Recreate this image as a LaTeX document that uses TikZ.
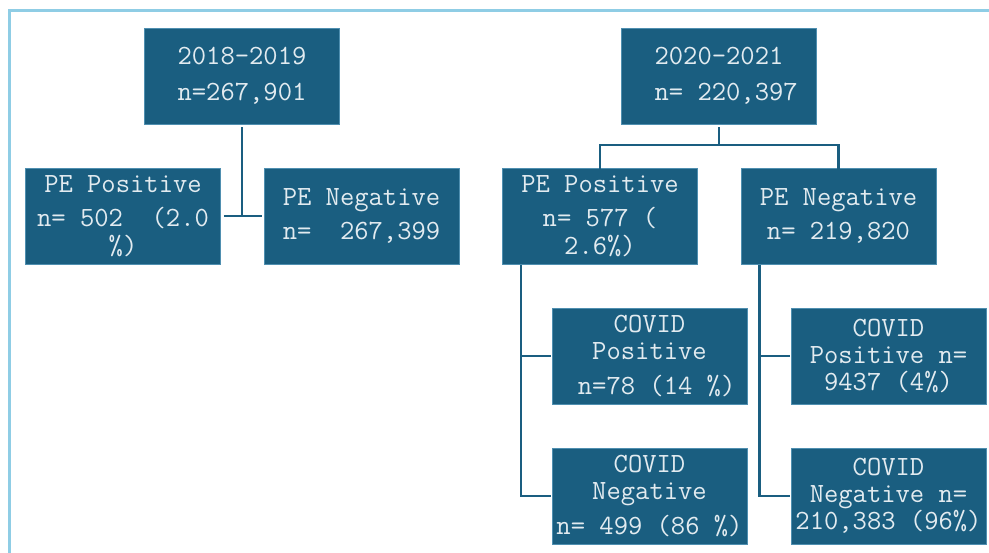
\documentclass[tikz,border=0pt]{standalone}
\usepackage{fontspec}
\definecolor{boxfill}{HTML}{1A5E80}
\definecolor{boxedge}{HTML}{4F8FB0}
\definecolor{frame}{HTML}{8FCDE5}
\definecolor{txt}{HTML}{E2EBF0}
\tikzset{
  box/.style={rectangle, fill=boxfill, draw=boxedge, line width=0.8pt,
    minimum width=195pt, minimum height=96pt, inner sep=0pt, align=center,
    text=txt, font=\ttfamily\fontsize{27.8}{27}\selectfont},
  conn/.style={draw=boxfill, line width=2.4pt},
}
\begin{document}
\begin{tikzpicture}[x=1pt,y=-1pt]
\useasboundingbox (0,0) rectangle (989,553);
\draw[frame, line width=3pt] (9.5,556) -- (9.5,11) -- (992,11);

\node[box] (A) at (242,76) {2018-2019\\[9pt]n=267,901};
\node[box] (B) at (719,76) {2020-2021\\[9pt]\hphantom{n}n= 220,397};

\node[box] (lpos) at (123,216) {PE Positive\\[7pt]n= 502\ \ (2.0\\[1pt]\%)};
\node[box] (lneg) at (361.5,216) {PE Negative\\[7pt]n=\ \ 267,399};
\node[box] (rpos) at (600,216) {PE Positive\\[7pt]n= 577 (\\[1pt]2.6\%)};
\node[box] (rneg) at (838.5,216) {PE Negative\\[7pt]n= 219,820};

\node[box] (cpl) at (649.5,356) {COVID\\Positive\\[8pt]\hphantom{n}n=78 (14 \%)};
\node[box] (cnl) at (649.5,496) {COVID\\Negative\\[8pt]n= 499 (86 \%)};
\node[box] (cpr) at (888.5,356) {COVID\\Positive n=\\9437 (4\%)};
\node[box] (cnr) at (888.5,496) {COVID\\Negative n=\\210,383 (96\%)};

% left tree
\coordinate (lj) at (A.south |- lpos.east);
\draw[conn] ([yshift=-3pt]A.south) -- (lj);
\draw[conn] ([xshift=3pt]lpos.east) -- ([xshift=-2pt]lneg.west);

% right tree
\coordinate (bar) at (719,145);
\draw[conn] ([yshift=-3pt]B.south) -- (bar);
\draw[conn] ([yshift=-3pt]rpos.north) |- (bar) -| ([yshift=-3pt]rneg.north);

\coordinate (lt) at ([xshift=19pt,yshift=-1pt]rpos.south west);
\draw[conn] (lt) |- ([xshift=-1pt]cnl.west);
\draw[conn] (lt |- cpl.west) -- ([xshift=-1pt]cpl.west);

\coordinate (rt) at ([xshift=19pt,yshift=-1pt]rneg.south west);
\draw[conn] (rt) |- ([xshift=-1pt]cnr.west);
\draw[conn] (rt |- cpr.west) -- ([xshift=-1pt]cpr.west);
\end{tikzpicture}
\end{document}
